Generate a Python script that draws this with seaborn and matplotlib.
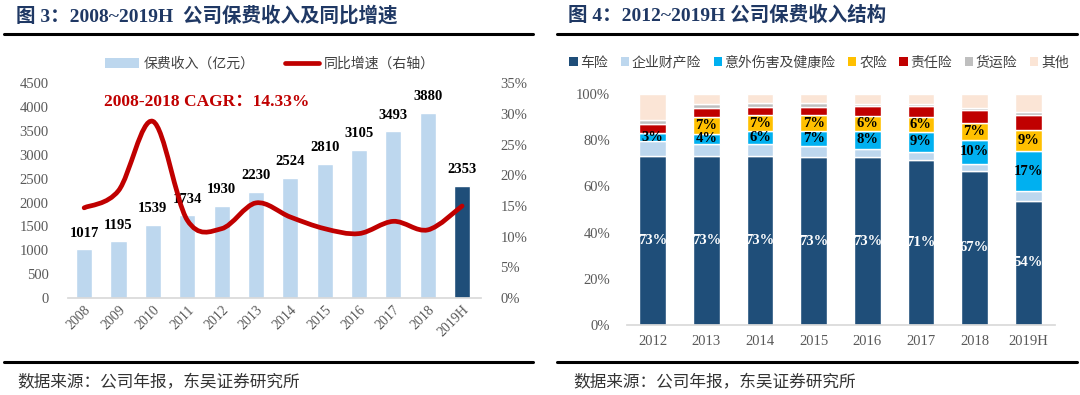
import numpy as np
import matplotlib
matplotlib.use("Agg")
import matplotlib.pyplot as plt
import seaborn as sns
from matplotlib.path import Path
from matplotlib.patches import PathPatch, Patch
from matplotlib.lines import Line2D

# ---- 图3 数据 ----
years_l = ["2008", "2009", "2010", "2011", "2012", "2013",
           "2014", "2015", "2016", "2017", "2018", "2019H"]
premium = [1017, 1195, 1539, 1734, 1930, 2230, 2524, 2810, 3105, 3493, 3880, 2353]
growth = [14.7, 17.5, 28.8, 12.7, 11.3, 15.5, 13.2, 11.3, 10.5, 12.5, 11.1, 15.0]

# ---- 图4 数据 (%) ----
years_r = ["2012", "2013", "2014", "2015", "2016", "2017", "2018", "2019H"]
auto = [73.0, 73.0, 73.0, 72.6, 72.7, 71.3, 66.7, 53.8]
prop = [6.6, 5.4, 5.3, 4.8, 3.7, 3.7, 3.2, 4.2]
accident = [3.4, 4.4, 5.8, 6.6, 7.6, 8.6, 10.4, 17.2]
agri = [0.0, 7.2, 6.6, 6.8, 6.4, 6.4, 7.3, 9.3]
liability = [3.8, 4.0, 3.8, 3.7, 4.2, 4.6, 5.3, 6.6]
cargo = [1.9, 1.5, 1.5, 1.4, 0.9, 0.9, 1.1, 0.9]
other = [11.3, 4.5, 4.0, 4.1, 4.5, 4.5, 6.0, 8.0]
seg_names = ["车险", "企业财产险", "意外伤害及健康险", "农险", "责任险", "货运险", "其他"]
seg_colors = ["#1F4E79", "#BDD7EE", "#00B0F0", "#FFC000", "#C00000", "#BFBFBF", "#FBE5D6"]

SERIF = ["Liberation Serif", "Noto Sans CJK SC"]
SANS = ["Noto Sans CJK SC", "DejaVu Sans"]
TICK = "#595959"

sns.set_theme(style="white")
plt.rcParams["font.family"] = SERIF

W, H = 1080, 395
fig = plt.figure(figsize=(W / 100, H / 100), dpi=100)


def box(x0, y_top, x1, y_bot):
    return [x0 / W, 1 - y_bot / H, (x1 - x0) / W, (y_bot - y_top) / H]


def smooth_path(xs, ys):
    pts = np.column_stack([xs, ys]).astype(float)
    n = len(pts)
    verts, codes = [pts[0]], [Path.MOVETO]
    for i in range(n - 1):
        p0, p1 = pts[max(i - 1, 0)], pts[i]
        p2, p3 = pts[i + 1], pts[min(i + 2, n - 1)]
        verts += [p1 + (p2 - p0) / 6, p2 - (p3 - p1) / 6, p2]
        codes += [Path.CURVE4] * 3
    return Path(verts, codes)


# ================= 图3 =================
ax1 = fig.add_axes(box(68, 83.3, 481, 298))
bar_colors = ["#BDD7EE"] * (len(years_l) - 1) + ["#1F4E79"]
sns.barplot(x=years_l, y=premium, hue=years_l, palette=bar_colors, width=0.47,
            saturation=1, legend=False, errorbar=None, ax=ax1)
ax1.set_xlim(-0.47, 11.55)
ax1.set_ylim(0, 4500)
ax1.set_yticks(range(0, 4501, 500))
ax1.set_xlabel("")
ax1.set_ylabel("")
for i, v in enumerate(premium):
    ax1.annotate(str(v), (i, v), xytext=(0, 11.5), textcoords="offset points",
                 ha="center", va="center", fontsize=10.5, fontweight="bold",
                 family=SERIF, color="black")
ax1.tick_params(axis="y", labelsize=10.5, labelcolor=TICK, length=0, pad=14)
ax1.tick_params(axis="x", labelsize=10, labelcolor=TICK, length=0, pad=4)
for lab in ax1.get_xticklabels():
    lab.set_rotation(45)
    lab.set_ha("right")
    lab.set_rotation_mode("anchor")
for s in ["top", "left", "right"]:
    ax1.spines[s].set_visible(False)
ax1.spines["bottom"].set_color("#D9D9D9")

ax2 = ax1.twinx()
ax2.add_patch(PathPatch(smooth_path(np.arange(len(growth)), growth), facecolor="none",
                        edgecolor="#C00000", lw=3.4, capstyle="round", joinstyle="round"))
ax2.set_ylim(0, 35)
ax2.set_yticks(range(0, 36, 5))
ax2.set_yticklabels([f"{t}%" for t in range(0, 36, 5)])
ax2.tick_params(axis="y", labelsize=10.5, labelcolor=TICK, length=0, pad=14)
for s in ax2.spines.values():
    s.set_visible(False)
ax2.grid(False)

fig.text(104 / W, 1 - 101.5 / H, "2008-2018 CAGR：14.33%", color="#C00000",
         fontsize=12.5, fontweight="bold", family=SERIF, va="center")

fig.legend(handles=[Patch(facecolor="#BDD7EE", edgecolor="none"),
                    Line2D([], [], color="#C00000", lw=3.4)],
           labels=["保费收入（亿元）", "同比增速（右轴）"],
           loc="center", bbox_to_anchor=(270 / W, 1 - 64 / H), ncol=2, frameon=False,
           prop={"family": SANS, "size": 10}, handlelength=2.45, handletextpad=0.35,
           columnspacing=2.2, labelcolor="#404040")

# ================= 图4 =================
ax3 = fig.add_axes(box(627, 94, 1055, 325))
series = [auto, prop, accident, agri, liability, cargo, other]
bottom = np.zeros(len(years_r))
for name, vals, col in zip(seg_names, series, seg_colors):
    vals = np.array(vals)
    sns.barplot(x=years_r, y=vals, color=col, width=0.5, saturation=1,
                bottom=bottom, errorbar=None, ax=ax3)
    if name in ("车险", "意外伤害及健康险", "农险"):
        tc = "white" if name == "车险" else "black"
        for i, v in enumerate(vals):
            if v > 0:
                ax3.text(i, bottom[i] + v / 2, f"{v:.0f}%", ha="center", va="center",
                         color=tc, fontsize=10.5, fontweight="bold", family=SERIF)
    bottom += vals
ax3.set_xlim(-0.48, 7.5)
ax3.set_ylim(0, 100)
ax3.set_yticks(range(0, 101, 20))
ax3.set_yticklabels([f"{t}%" for t in range(0, 101, 20)])
ax3.set_xlabel("")
ax3.set_ylabel("")
ax3.tick_params(axis="y", labelsize=10.5, labelcolor=TICK, length=0, pad=12)
ax3.tick_params(axis="x", labelsize=10.5, labelcolor=TICK, length=0, pad=7)
for s in ["top", "left", "right"]:
    ax3.spines[s].set_visible(False)
ax3.spines["bottom"].set_color("#D9D9D9")

fig.legend(handles=[Patch(facecolor=c, edgecolor="none") for c in seg_colors],
           labels=seg_names, loc="center", bbox_to_anchor=(819 / W, 1 - 62.5 / H),
           ncol=7, frameon=False, prop={"family": SANS, "size": 10},
           handlelength=0.6, handleheight=0.6, handletextpad=0.2, columnspacing=0.9,
           labelcolor="#404040")

# ================= 标题与来源 =================
title_color = "#1F3864"
fig.text(16 / W, 1 - 15.5 / H, "图 3：2008~2019H  公司保费收入及同比增速", fontsize=14,
         fontweight="bold", color=title_color, family=SERIF, va="center")
fig.text(568 / W, 1 - 15.5 / H, "图 4：2012~2019H 公司保费收入结构", fontsize=14,
         fontweight="bold", color=title_color, family=SERIF, va="center")
for x0, x1 in [(4, 533), (557, 1077)]:
    for y in (33.5, 361.7):
        fig.add_artist(Line2D([x0 / W, x1 / W], [1 - y / H] * 2, color="black", lw=2.2))
for x0 in (17, 573):
    fig.text(x0 / W, 1 - 382.5 / H, "数据来源：公司年报，东吴证券研究所", fontsize=12,
             color="#333333", family=SANS, va="center")

fig.savefig("out.png", dpi=100)
plt.close(fig)
